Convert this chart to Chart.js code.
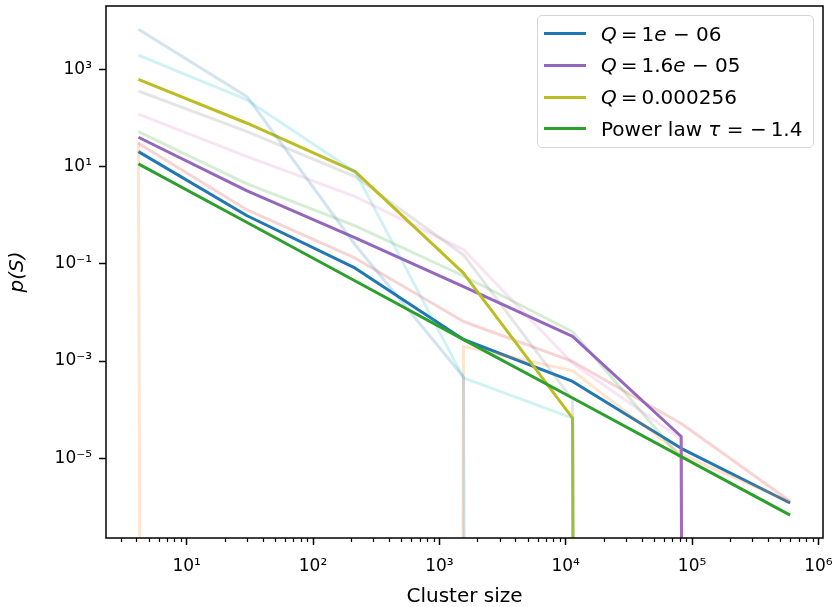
<!DOCTYPE html>
<html><head><meta charset="utf-8">
<script src="https://cdn.jsdelivr.net/npm/chart.js@4/dist/chart.umd.min.js"></script>
<style>
html,body{margin:0;padding:0;background:#fff;}
#wrap{position:relative;width:837px;height:607px;overflow:hidden;}
canvas{display:block;}
#legend{position:absolute;left:537px;top:15px;width:277px;height:133px;box-sizing:border-box;border:1px solid #d6d6d6;border-radius:5px;background:rgba(255,255,255,0.85);font-family:"DejaVu Sans";font-size:20px;color:#000;}
.row{position:absolute;left:0;right:0;height:0;}
.sw{position:absolute;left:6px;width:42px;height:3px;top:-1.5px;}
.lab{position:absolute;left:63px;top:-12px;line-height:24px;white-space:nowrap;}
.lab i{font-style:italic;}
</style></head>
<body>
<div id="wrap">
<canvas id="c" width="837" height="607"></canvas>
<div id="legend"></div>
</div>
<script>
// ---- data ----
const clusterSizes = [4.15, 30.1, 216, 1553, 11330, 82000, 597000];
// highlighted series
const pQ1e06     = [20.2, 0.97, 0.081, 2.77e-3, 3.8e-4, 1.6e-5, 1.2e-6];
const pQ1_6e05   = [40, 3.16, 0.34, 0.034, 3.2e-3, 2.8e-5, 0];
const pQ0_000256 = [622, 77.6, 7.85, 0.0641, 6.7e-5, 0, 0];
const pPowerLaw  = [11.3, 0.706, 0.0442, 2.76e-3, 1.73e-4, 1.08e-5, 6.75e-7];
// faint background series
const pFaintOrange = [32.6, 0, 0, 2.0e-3, 6.3e-4, 1.2e-5, 1.26e-6];
const pFaintGreen  = [52, 4.4, 0.60, 0.056, 4.0e-3, 1.0e-5, 0];
const pFaintRed    = [30, 1.28, 0.13, 6.5e-3, 9.8e-4, 5.2e-5, 1.3e-6];
const pFaintPink   = [120, 16, 2.4, 0.195, 9e-4, 2.5e-5, 0];
const pFaintGray   = [357, 52, 6.2, 0.152, 1.6e-4, 0, 0];
const pFaintCyan   = [1960, 234, 7.74, 4.5e-4, 6.7e-5, 0, 0];
const pFaintBlue   = [6640, 273, 0.243, 4.7e-4, 0, 0, 0];
// legend labels
const legendLabels = ['<i>Q</i>&#8201;=&#8201;1<i>e</i> &#8722; 06', '<i>Q</i>&#8201;=&#8201;1.6<i>e</i> &#8722; 05', '<i>Q</i>&#8201;=&#8201;0.000256', 'Power law <i>&#964;</i> = &#8722;&#8201;1.4'];
const xMajorTicks = [10, 100, 1000, 10000, 100000, 1000000];
const yMajorTicks = [1e-5, 1e-3, 1e-1, 10, 1000];

const SUP = {'-':'\u207B','0':'\u2070','1':'\u00B9','2':'\u00B2','3':'\u00B3','4':'\u2074','5':'\u2075','6':'\u2076','7':'\u2077','8':'\u2078','9':'\u2079'};
function pow10Label(v){const e=Math.round(Math.log10(v));return '10'+String(e).split('').map(c=>SUP[c]).join('');}

// zeros are clipped like matplotlib's log scale (sent far below the axis)
const TINY = 1e-300;
const origPix = Chart.LogarithmicScale.prototype.getPixelForValue;
Chart.LogarithmicScale.prototype.getPixelForValue = function(v){
  if (v > 0 && v < 1e-250) return this.getPixelForDecimal((-20000 - this._startValue) / this._valueRange);
  return origPix.call(this, v);
};
function pts(arr){return arr.map((y,i)=>({x:clusterSizes[i], y: y>0?y:TINY}));}
function rgba(hex,a){const n=parseInt(hex.slice(1),16);return `rgba(${n>>16},${(n>>8)&255},${n&255},${a})`;}

const series = [ // matplotlib plot order (later on top)
  {d:pQ1e06, c:'#1f77b4', a:1},
  {d:pFaintOrange, c:'#ff7f0e', a:0.2},
  {d:pFaintGreen, c:'#2ca02c', a:0.2},
  {d:pFaintRed, c:'#d62728', a:0.2},
  {d:pQ1_6e05, c:'#9467bd', a:1},
  {d:pFaintPink, c:'#e377c2', a:0.2},
  {d:pFaintGray, c:'#7f7f7f', a:0.2},
  {d:pQ0_000256, c:'#bcbd22', a:1},
  {d:pFaintCyan, c:'#17becf', a:0.2},
  {d:pFaintBlue, c:'#1f77b4', a:0.2},
  {d:pPowerLaw, c:'#2ca02c', a:1}
];
const datasets = series.map((s,i)=>({
  data: pts(s.d), borderColor: rgba(s.c,s.a), borderWidth: 3, pointRadius: 0,
  fill:false, tension:0, clip:0, order: series.length - i,
  borderJoinStyle:'round', borderCapStyle:'butt'
}));

const FONT = 'DejaVu Sans';
const framePlugin = {
  id:'frame',
  afterDatasetsDraw(chart){
    const {ctx, chartArea:a} = chart;
    const xs = chart.scales.x;
    ctx.save();
    ctx.strokeStyle='#000';
    // minor ticks on x
    ctx.beginPath();
    for(let d=0; d<=6; d++){
      for(let m=2;m<=9;m++){
        const v=m*Math.pow(10,d);
        if(v<xs.min||v>xs.max) continue;
        const px=Math.round(xs.getPixelForValue(v))+0.5;
        ctx.moveTo(px,a.bottom); ctx.lineTo(px,a.bottom+4);
      }
    }
    ctx.lineWidth=1.2; ctx.stroke();
    ctx.lineWidth=1.5;
    ctx.strokeRect(Math.round(a.left), Math.round(a.top), Math.round(a.right-a.left), Math.round(a.bottom-a.top));
    ctx.restore();
  }
};

new Chart(document.getElementById('c'), {
  type:'line',
  data:{datasets},
  plugins:[framePlugin],
  options:{
    responsive:false, animation:false, devicePixelRatio:1,
    layout:{padding:{left:0,right:14,top:6,bottom:0}},
    plugins:{legend:{display:false}, tooltip:{enabled:false}},
    scales:{
      x:{type:'logarithmic', min:2.30, max:1.087e6,
        afterBuildTicks(s){s.ticks = xMajorTicks.map(v=>({value:v}));},
        afterFit(s){s.height=69; s.paddingLeft=0; s.paddingRight=0;},
        border:{display:false},
        grid:{display:true, drawOnChartArea:false, drawTicks:true, tickLength:7, tickColor:'#000', tickWidth:1.5},
        ticks:{autoSkip:false, maxRotation:0, padding:11, color:'#000', font:{family:FONT,size:17}, callback:(v)=>pow10Label(v)},
        title:{display:true, text:'Cluster size', color:'#000', font:{family:FONT,size:20,lineHeight:1.0}, padding:{top:0,bottom:0}}
      },
      y:{type:'logarithmic', min:2.29e-7, max:2.0e4,
        afterBuildTicks(s){s.ticks = yMajorTicks.map(v=>({value:v}));},
        afterFit(s){s.width=106; s.paddingTop=0; s.paddingBottom=0;},
        border:{display:false},
        grid:{display:true, drawOnChartArea:false, drawTicks:true, tickLength:7, tickColor:'#000', tickWidth:1.5},
        ticks:{autoSkip:false, padding:7, color:'#000', font:{family:FONT,size:17}, callback:(v)=>pow10Label(v)},
        title:{display:true, text:'p(S)', color:'#000', font:{family:FONT,size:20,style:'italic'}, padding:{top:6,bottom:0}}
      }
    }
  }
});

// HTML legend (real text)
const legendColors = ['#1f77b4','#9467bd','#bcbd22','#2ca02c'];
const rowY = [17.7, 49, 81, 112.7];
const lg = document.getElementById('legend');
legendLabels.forEach((t,i)=>{
  const r=document.createElement('div'); r.className='row'; r.style.top=rowY[i]+'px';
  r.innerHTML=`<div class="sw" style="background:${legendColors[i]}"></div><div class="lab">${t}</div>`;
  lg.appendChild(r);
});
</script>
</body></html>
